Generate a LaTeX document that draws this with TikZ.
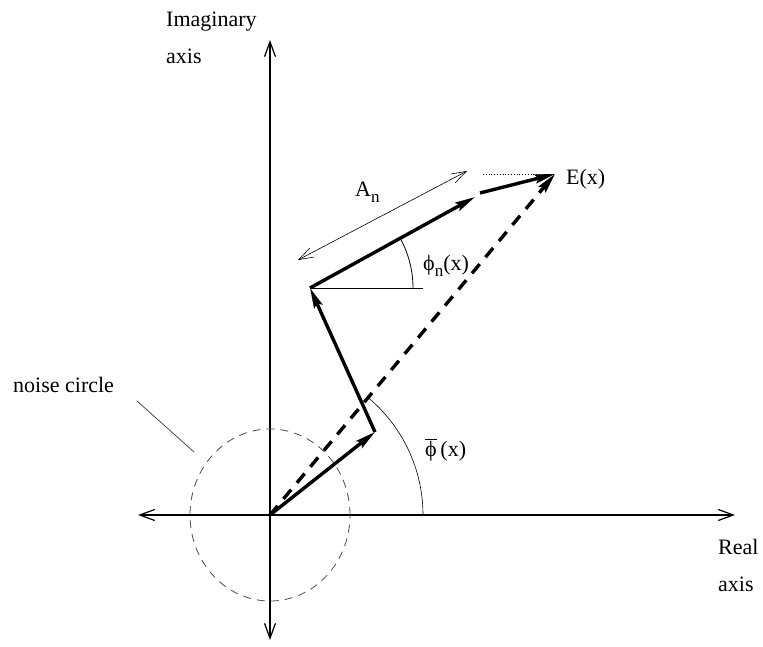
\documentclass[tikz,border=0pt]{standalone}
\usepackage{fontspec}
\setmainfont{Liberation Serif}
\usepackage{tikz}
\usetikzlibrary{calc}
\usetikzlibrary{arrows.meta}

\newcommand{\lowsub}[1]{\raisebox{-6pt}{\fontsize{17}{17}\selectfont #1}}

\begin{document}
\begin{tikzpicture}[
    x=1pt, y=1pt,
    % Define styles for axes, phasors and labels
    axis/.style={draw=black, line width=1.2pt, {Straight Barb[length=15pt,width=11pt]}-{Straight Barb[length=15pt,width=11pt]}},
    phasor/.style={draw=black, line width=3.4pt, -{Stealth[length=20pt,width=9pt,inset=3pt]}},
    resultant/.style={phasor, dash pattern=on 12pt off 9pt},
    helper/.style={draw=black, line width=0.8pt},
    lbl/.style={inner sep=0pt, font=\fontsize{22}{37}\selectfont}
]

    % --- Frame ---
    \useasboundingbox (-270,-131) rectangle (493,515);

    % --- Key points ---
    \coordinate (O)  at (0,0);
    \coordinate (P1) at (105,83);
    \coordinate (P2) at (40,227);
    \coordinate (P3) at (205,318);
    \coordinate (P4) at (210,322);
    \coordinate (E)  at (285,341);

    % --- Axes ---
    \coordinate (xL) at (-132,0);
    \coordinate (xR) at (465,0);
    \coordinate (yB) at (0,-125);
    \coordinate (yT) at (0,475);
    \draw[axis] (xL) -- (xR);
    \draw[axis] (yB) -- (yT);

    % --- Noise circle ---
    \draw[helper, draw=black!70, dash pattern=on 8pt off 6pt] (O) ellipse [x radius=80, y radius=86];
    \node[lbl, anchor=base west] (noise) at (-257,123) {noise circle};
    \coordinate (nA) at (-133,114);
    \coordinate (nB) at (-76,63);
    \draw[helper, draw=black!70] (nA) -- (nB);

    % --- Phasors ---
    \draw[phasor] (O) -- (P1);
    \draw[phasor] (P1) -- (P2);
    \draw[phasor] (P2) -- (P3);
    \draw[phasor] (P4) -- (E);
    \draw[resultant] (O) -- (E);

    % --- Reference lines ---
    \coordinate (hEnd) at (153,227);
    \coordinate (dStart) at (213,341);
    \draw[helper] (P2) -- (hEnd);
    \draw[helper, dotted] (dStart) -- (E);

    % --- Amplitude marker ---
    \coordinate (aL) at (28,255);
    \coordinate (aR) at (197,344);
    \draw[helper, line width=0.6pt, {Straight Barb[length=15pt,width=10pt]}-{Straight Barb[length=15pt,width=10pt]}] (aL) -- (aR);

    % --- Angles ---
    \draw[helper] ($(P2)+(103,0)$) arc[start angle=0, end angle=28.9, radius=103];
    \draw[helper, line width=0.6pt] (153,0) arc[start angle=0, end angle=50.1, radius=153];

    % --- Labels ---
    \node[lbl, anchor=north west, align=left] (imag) at (-104,503) {Imaginary\\axis};
    \node[lbl, anchor=north west, align=left] (real) at (448,-24) {Real\\axis};
    \node[lbl, anchor=base west] (Elbl) at (296,330) {E(x)};
    \node[lbl, anchor=base west] (Albl) at (85,318) {A\lowsub{n}};
    \node[lbl, anchor=base west] (phin) at (153,244) {ϕ\lowsub{n}(x)};
    \node[lbl, anchor=base west] (phibar) at (155,59) {$\overline{\hbox{ϕ}}$\,(x)};

\end{tikzpicture}
\end{document}
